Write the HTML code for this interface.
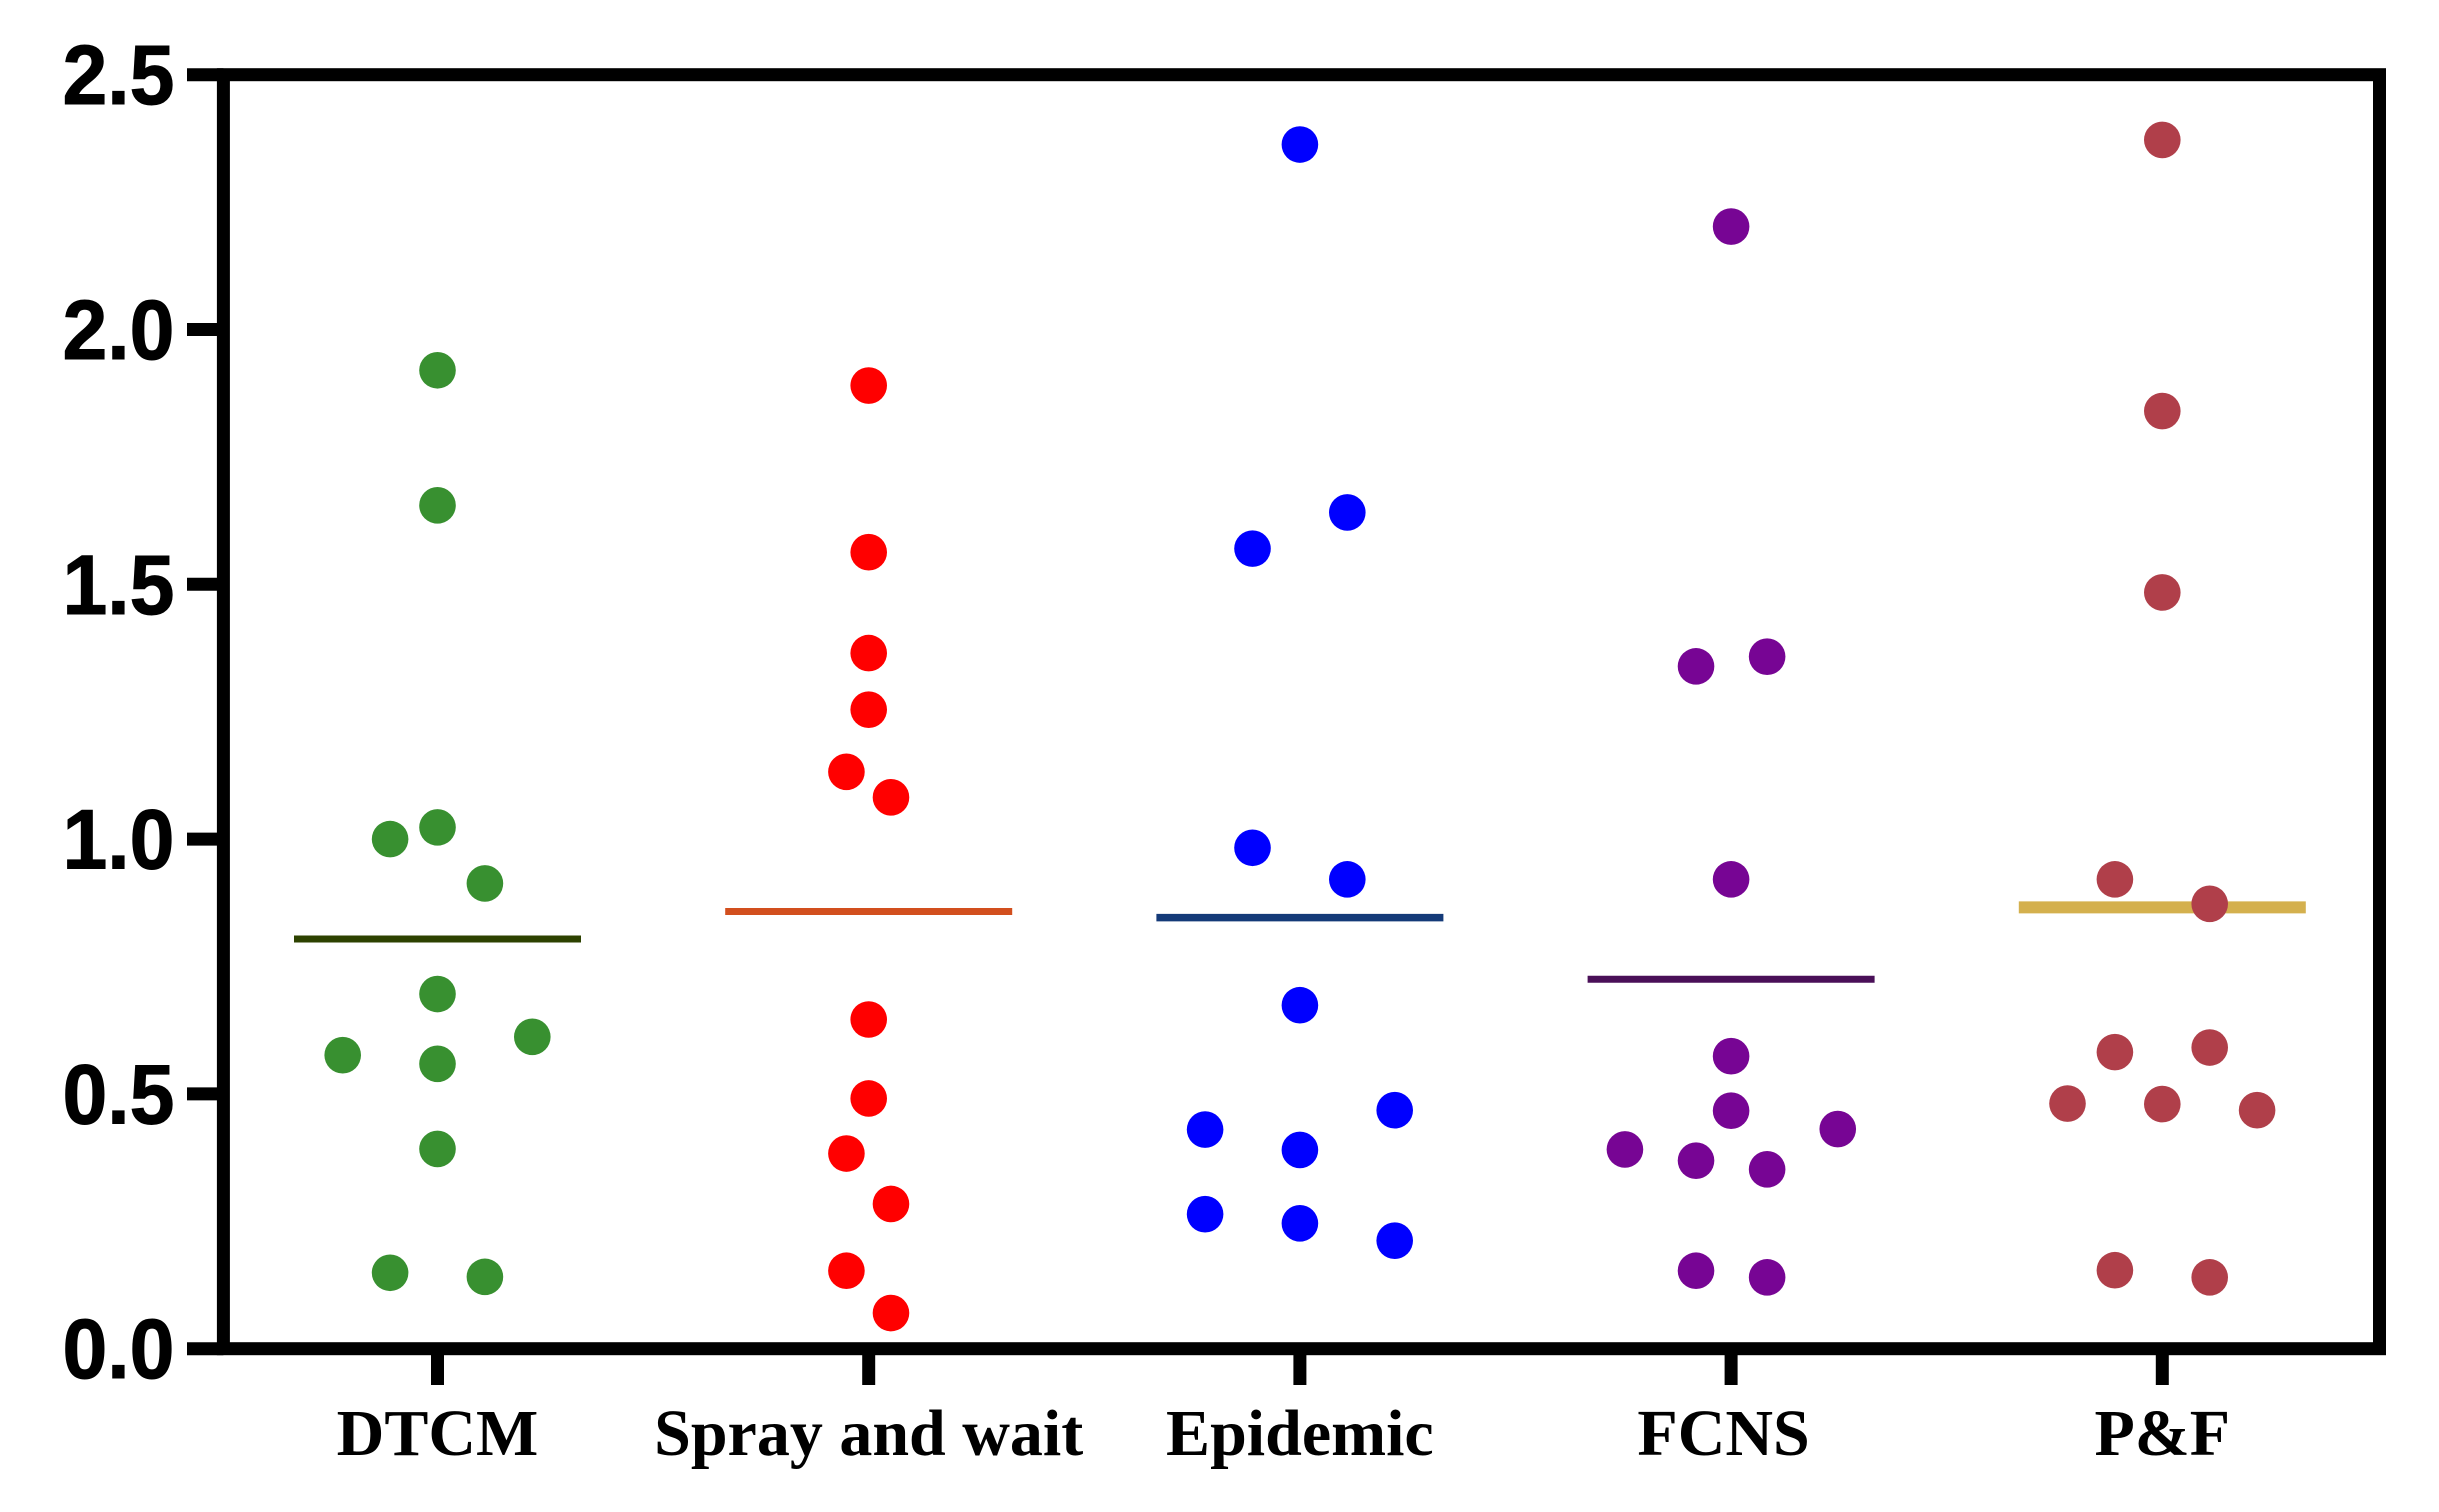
<!DOCTYPE html>
<html lang="en">
<head>
<meta charset="utf-8">
<title>Scatter dot plot by routing protocol</title>
<style>
html,body{margin:0;padding:0;background:#fff;}
svg{display:block;}
</style>
</head>
<body>
<svg id="chart" xmlns="http://www.w3.org/2000/svg" width="2439" height="1512" viewBox="0 0 2439 1512"></svg>
<script>
// Category labels and y tick labels
const categories = ["DTCM", "Spray and wait", "Epidemic", "FCNS", "P&F"];
const yTicks = [0, 0.5, 1.0, 1.5, 2.0, 2.5];

// Series values
const dtcmValues = [1.920, 1.655, 1.023, 1.000, 0.913, 0.696, 0.612, 0.576, 0.559, 0.392, 0.149, 0.141];
const sprayValues = [1.890, 1.563, 1.365, 1.254, 1.132, 1.082, 0.646, 0.491, 0.383, 0.284, 0.153, 0.070];
const epidemicValues = [2.363, 1.641, 1.570, 0.983, 0.921, 0.674, 0.468, 0.430, 0.390, 0.264, 0.246, 0.212];
const fcnsValues = [2.202, 1.358, 1.339, 0.921, 0.574, 0.467, 0.431, 0.391, 0.369, 0.352, 0.153, 0.140];
const pfValues = [2.372, 1.840, 1.484, 0.921, 0.873, 0.591, 0.582, 0.481, 0.480, 0.468, 0.154, 0.140];

// Mean line per category
const meanValues = [0.804, 0.858, 0.846, 0.725, 0.866];

// Swarm slot of each point (in dot-spacing units, 0 = category centre)
const dtcmSlots = [0, 0, 0, -1, 1, 0, 2, -2, 0, 0, -1, 1];
const spraySlots = [0, 0, 0, 0, -0.47, 0.47, 0, 0, -0.47, 0.47, -0.47, 0.47];
const epidemicSlots = [0, 1, -1, -1, 1, 0, 2, -2, 0, -2, 0, 2];
const fcnsSlots = [0, 0.76, -0.74, 0, 0, 0, 2.25, -2.24, -0.74, 0.76, -0.74, 0.76];
const pfSlots = [0, 0, 0, -1, 1, 1, -1, -2, 0, 2, -1, 1];

const dotColors = ["#389030", "#ff0000", "#0000ff", "#770594", "#b03f4a"];
const lineColors = ["#2d4200", "#d24f1e", "#143a78", "#4a1058", "#d4b04e"];
const lineWidths = [7, 7, 7.5, 7, 12];

const seriesValues = [dtcmValues, sprayValues, epidemicValues, fcnsValues, pfValues];
const seriesSlots = [dtcmSlots, spraySlots, epidemicSlots, fcnsSlots, pfSlots];
const seriesNames = ["dtcm", "spray-and-wait", "epidemic", "fcns", "pf"];

const NS = "http://www.w3.org/2000/svg";
const svg = document.getElementById("chart");

const plotLeft = 223.4, plotRight = 2379.5, plotTop = 74.7, plotBottom = 1348.7;
const yMax = 2.5;
const firstCatX = 437.5, catStep = 431.2, slotStep = 47.4;

function yScale(v) { return plotBottom - (v / yMax) * (plotBottom - plotTop); }
function xScale(i) { return firstCatX + i * catStep; }

function make(tag, attrs) {
  const el = document.createElementNS(NS, tag);
  for (const k in attrs) el.setAttribute(k, attrs[k]);
  return el;
}

// Means and dots
seriesValues.forEach(function (values, i) {
  const group = make("g", {});
  
  
  svg.appendChild(group);

  const mean = make("line", {
    x1: xScale(i) - 143.5, x2: xScale(i) + 143.5,
    y1: yScale(meanValues[i]), y2: yScale(meanValues[i]),
    stroke: lineColors[i], "stroke-width": lineWidths[i]
  });
  
  
  group.appendChild(mean);

  values.forEach(function (v, j) {
    const dot = make("circle", {
      cx: xScale(i) + seriesSlots[i][j] * slotStep,
      cy: yScale(v), r: 18.3, fill: dotColors[i]
    });
    
    
    group.appendChild(dot);
  });
});

// Frame
const frame = make("rect", {
  x: plotLeft, y: plotTop, width: plotRight - plotLeft, height: plotBottom - plotTop,
  fill: "none", stroke: "#000", "stroke-width": 13
});


svg.appendChild(frame);

// Y axis ticks and labels
yTicks.forEach(function (t) {
  const tick = make("line", {
    x1: 187, x2: plotLeft, y1: yScale(t), y2: yScale(t),
    stroke: "#000", "stroke-width": 13
  });
  
  
  svg.appendChild(tick);

  const label = make("text", {
    x: 174.5, y: yScale(t) + 29.5, "text-anchor": "end",
    textLength: 112, lengthAdjust: "spacingAndGlyphs",
    "font-family": '"Liberation Sans", sans-serif',
    "font-weight": "bold", "font-size": 84, fill: "#000",
    stroke: "#000", "stroke-width": 1
  });
  
  
  label.textContent = t.toFixed(1);
  svg.appendChild(label);
});

// X axis ticks and labels
categories.forEach(function (c, i) {
  const tick = make("line", {
    x1: xScale(i), x2: xScale(i), y1: plotBottom, y2: 1385,
    stroke: "#000", "stroke-width": 13
  });
  
  
  svg.appendChild(tick);

  const label = make("text", {
    x: xScale(i) - (c === "FCNS" ? 7.5 : 0), y: 1455, "text-anchor": "middle",
    "font-family": '"Liberation Serif", serif',
    "font-weight": "bold", "font-size": 66, fill: "#000"
  });
  
  
  label.textContent = c;
  svg.appendChild(label);
});
</script>
</body>
</html>
